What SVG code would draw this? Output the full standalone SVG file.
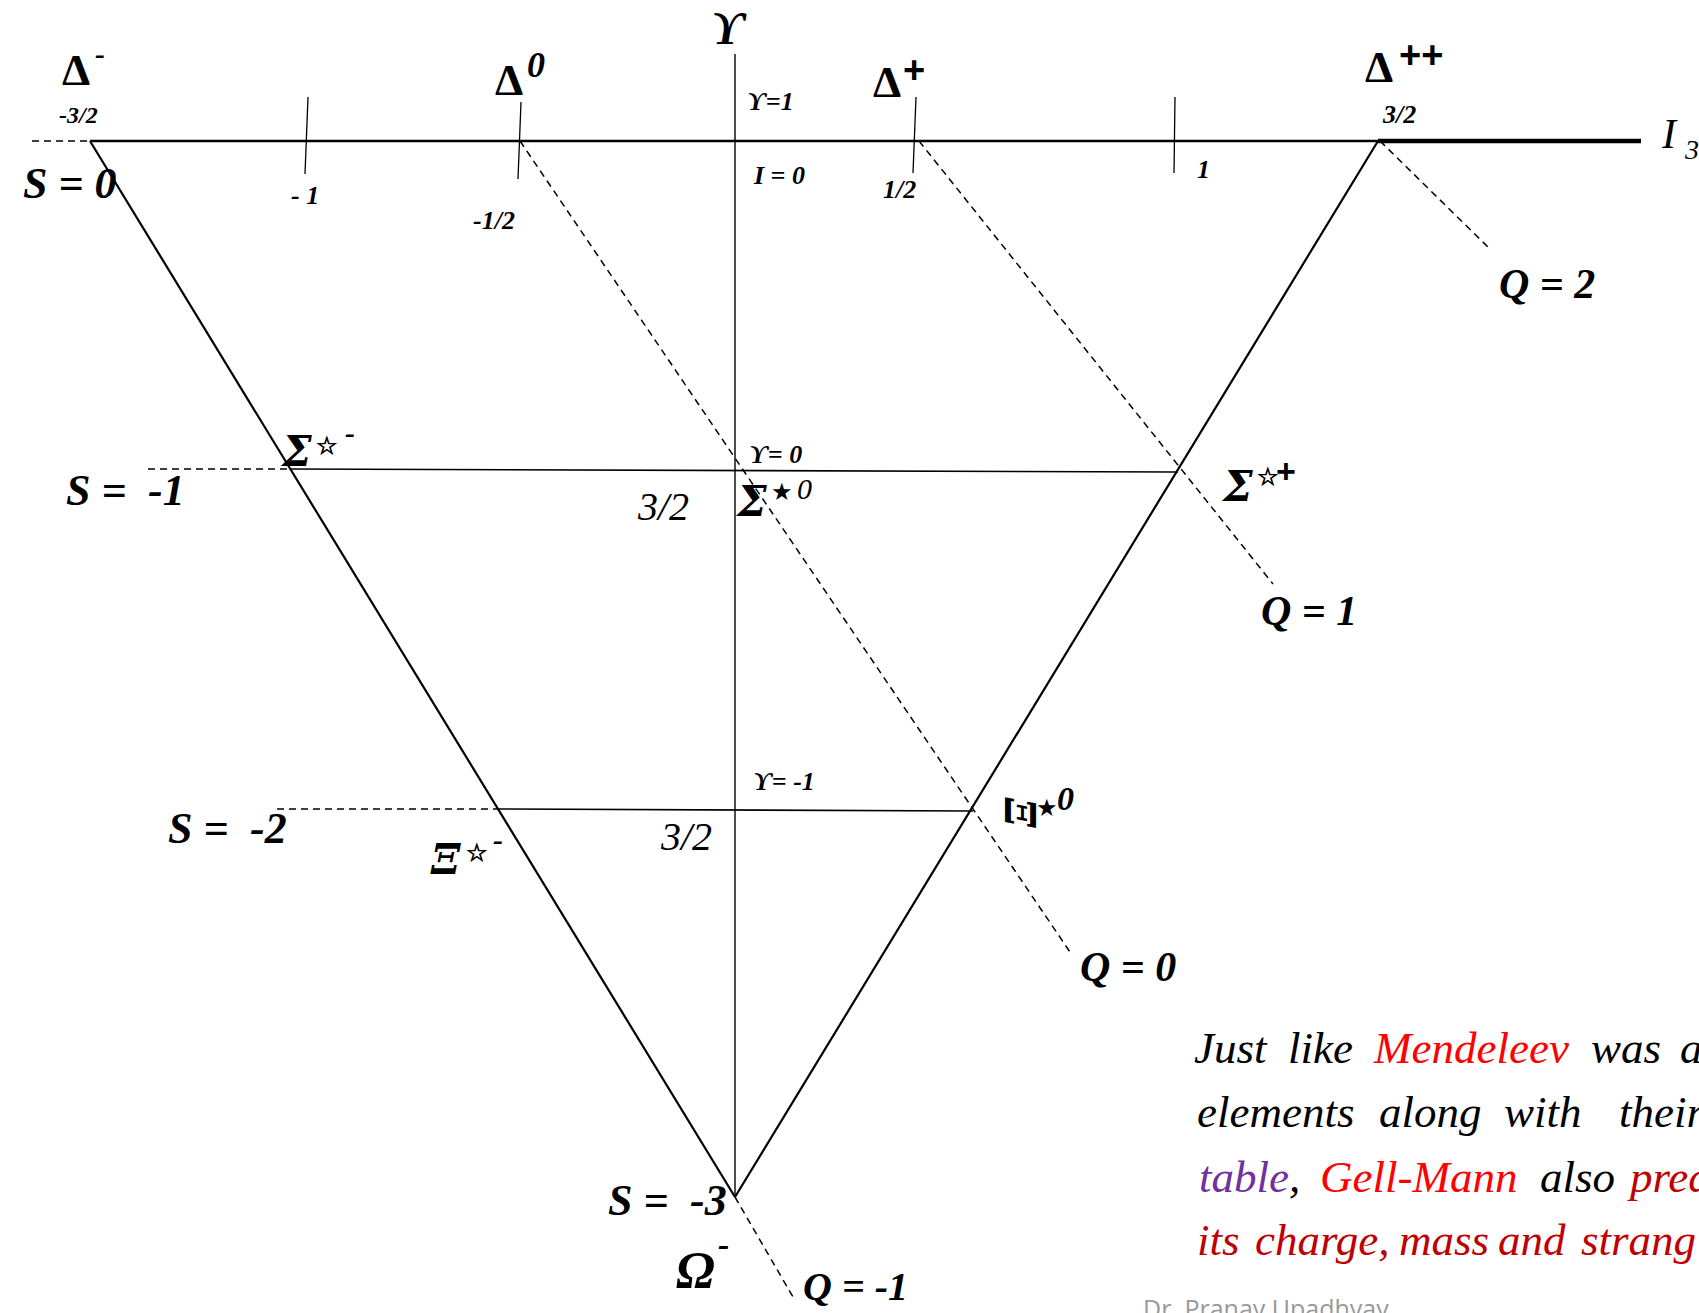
<svg xmlns="http://www.w3.org/2000/svg" width="1699" height="1313" viewBox="0 0 1699 1313">
<style>
.t{font-family:"Liberation Serif","DejaVu Serif",serif;font-style:italic;font-weight:bold;fill:#000}
.r{font-family:"Liberation Serif","DejaVu Serif",serif;font-style:italic;font-weight:normal;fill:#000}
.gk{font-family:"DejaVu Serif",serif;font-style:italic;font-weight:bold;font-size:42px;fill:#000}
.d{font-family:"Liberation Serif","DejaVu Serif",serif;font-style:normal;font-weight:bold;font-size:45px;fill:#000}
.p{font-family:"Liberation Sans","DejaVu Sans",sans-serif;font-weight:bold;fill:#000}
.st{font-family:"DejaVu Sans",sans-serif;font-size:24px;fill:#000}
.sh{stroke:#000;stroke-width:0.8}
.sm{font-size:26px}
.big{font-size:44px}
.q{font-size:42px}
.g{font-size:40px}
.para{font-family:"Liberation Serif","DejaVu Serif",serif;font-style:italic;font-size:45px}
.solid{stroke:#000;fill:none}
.dash{stroke:#000;fill:none;stroke-width:1.5;stroke-dasharray:7 5}
</style>
<rect width="1699" height="1313" fill="#fff"/>
<g id="connectors">
  <line class="solid" x1="90" y1="141" x2="1378" y2="141" stroke-width="2.6"/>
  <line class="solid" x1="1378" y1="141" x2="1641" y2="141" stroke-width="4.5"/>
  <line class="dash" x1="32" y1="141" x2="90" y2="141"/>
  <line class="solid" x1="735" y1="54" x2="735" y2="1197" stroke-width="1.4"/>
  <line class="solid" x1="90" y1="141" x2="735" y2="1197" stroke-width="2.2"/>
  <line class="solid" x1="1378" y1="141" x2="735" y2="1197" stroke-width="2.2"/>
  <line class="solid" x1="290" y1="469" x2="1178" y2="472" stroke-width="1.6"/>
  <line class="dash" x1="148" y1="469" x2="290" y2="469"/>
  <line class="solid" x1="498" y1="809" x2="973" y2="811" stroke-width="1.6"/>
  <line class="dash" x1="277" y1="809" x2="498" y2="809"/>
  <line class="solid" x1="308" y1="97" x2="305" y2="174" stroke-width="1.3"/>
  <line class="solid" x1="521" y1="102" x2="518" y2="179" stroke-width="1.3"/>
  <line class="solid" x1="916" y1="97" x2="913" y2="173" stroke-width="1.3"/>
  <line class="solid" x1="1175" y1="97" x2="1174" y2="173" stroke-width="1.3"/>
  <line class="dash" x1="520" y1="141" x2="1070" y2="952"/>
  <line class="dash" x1="919" y1="141" x2="1273" y2="584"/>
  <line class="dash" x1="1380" y1="141" x2="1491" y2="250"/>
  <line class="dash" x1="735" y1="1197" x2="793" y2="1297"/>
</g>
<g id="axis-labels">
  <text class="t" x="711" y="44" font-size="46">ϒ</text>
  <text class="r" x="1662" y="148" font-size="42">I</text>
  <text class="r" x="1685" y="159" font-size="28">3</text>
  <text class="t sm" x="747" y="110" font-size="24">ϒ=1</text>
  <text class="t sm" x="754" y="184">I = 0</text>
  <text class="t sm" x="749" y="463">ϒ= 0</text>
  <text class="t sm" x="753" y="790">ϒ= -1</text>
  <text class="t" x="59" y="123" font-size="24">-3/2</text>
  <text class="t sm" x="291" y="204">- 1</text>
  <text class="t sm" x="473" y="229">-1/2</text>
  <text class="t sm" x="883" y="198">1/2</text>
  <text class="t sm" x="1197" y="178">1</text>
  <text class="t sm" x="1383" y="123">3/2</text>
  <text class="r g" x="638" y="520">3/2</text>
  <text class="r g" x="661" y="850">3/2</text>
</g>
<g id="strangeness-labels">
  <text class="t big" x="23" y="198">S = 0</text>
  <text class="t big" x="66" y="505">S =</text><text class="t big" x="148" y="505">-1</text>
  <text class="t big" x="168" y="843">S =</text><text class="t big" x="250" y="843">-2</text>
  <text class="t big" x="608" y="1215">S =</text><text class="t big" x="690" y="1215">-3</text>
</g>
<g id="charge-labels">
  <text class="t q" x="1499" y="298">Q = 2</text>
  <text class="t q" x="1261" y="625">Q = 1</text>
  <text class="t q" x="1080" y="981">Q = 0</text>
  <text class="t" x="803" y="1300" font-size="40">Q = -1</text>
</g>
<g id="delta-minus">
  <text class="d" x="62" y="85">Δ</text>
  <text class="t" x="95" y="64" font-size="30">-</text>
</g>
<g id="delta-zero">
  <text class="d" x="495" y="95">Δ</text>
  <text class="t" x="527" y="77" font-size="36">0</text>
</g>
<g id="delta-plus">
  <text class="d" x="873" y="97">Δ</text>
  <text class="p" x="903" y="83" font-size="38">+</text>
</g>
<g id="delta-plusplus">
  <text class="d" x="1365" y="82">Δ</text>
  <text class="p" x="1399" y="68" font-size="38">++</text>
</g>
<g id="sigma-minus">
  <text class="gk" x="282" y="466">Σ</text>
  <text class="st sh" x="316" y="454">☆</text>
  <text class="t" x="345" y="443" font-size="30">-</text>
</g>
<g id="sigma-zero">
  <text class="gk" x="737" y="516">Σ</text>
  <text class="st" x="771" y="500">★</text>
  <text class="r" x="797" y="499" font-size="30">0</text>
</g>
<g id="sigma-plus">
  <text class="gk" x="1223" y="501">Σ</text>
  <text class="st sh" x="1257" y="485">☆</text>
  <text class="p" x="1276" y="483" font-size="34">+</text>
</g>
<g id="xi-minus">
  <text class="gk" x="431" y="874">Ξ</text>
  <text class="st sh" x="466" y="861">☆</text>
  <text class="t" x="493" y="850" font-size="30">-</text>
</g>
<g id="xi-zero">
  <text class="gk" transform="translate(1019,813) rotate(90)" x="-15" y="14">Ξ</text>
  <text class="st" x="1036" y="816">★</text>
  <text class="t" x="1057" y="810" font-size="34">0</text>
</g>
<g id="omega-minus">
  <text class="t" x="676" y="1288" font-size="52">Ω</text>
  <text class="t" x="718" y="1256" font-size="34">-</text>
</g>
<g id="note">
  <text class="para" y="1063"><tspan x="1194" fill="#000">Just</tspan><tspan x="1288" fill="#000">like</tspan><tspan x="1374" fill="#FF0000">Mendeleev</tspan><tspan x="1591" fill="#000">was</tspan><tspan x="1680" fill="#000">a</tspan></text>
  <text class="para" y="1127" fill="#000"><tspan x="1197">elements</tspan><tspan x="1379">along</tspan><tspan x="1504">with</tspan><tspan x="1619">their</tspan></text>
  <text class="para" y="1192"><tspan x="1199" fill="#7030A0">table</tspan><tspan fill="#000">,</tspan><tspan x="1320" fill="#FF0000">Gell-Mann</tspan><tspan x="1540" fill="#000">also</tspan><tspan x="1630" fill="#C00000">pred</tspan></text>
  <text class="para" y="1255" fill="#C00000"><tspan x="1197">its</tspan><tspan x="1255">charge,</tspan><tspan x="1399">mass</tspan><tspan x="1498">and</tspan><tspan x="1581">strang</tspan></text>
  <text x="1143" y="1318" font-family="Open Sans, sans-serif" font-size="25" fill="#999">Dr. Pranay Upadhyay</text>
</g>
</svg>
